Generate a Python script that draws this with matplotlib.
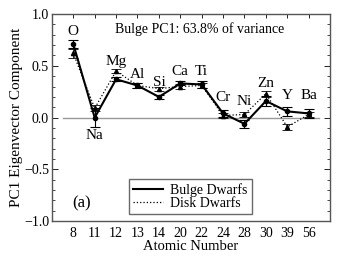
import matplotlib
matplotlib.use("Agg")
import matplotlib.pyplot as plt
from matplotlib.ticker import MultipleLocator
from matplotlib.lines import Line2D
import numpy as np

plt.rcParams['font.family'] = ['Liberation Serif', 'DejaVu Serif']

elements = ["O", "Na", "Mg", "Al", "Si", "Ca", "Ti", "Cr", "Ni", "Zn", "Y", "Ba"]
atomic_numbers = ["8", "11", "12", "13", "14", "20", "22", "24", "28", "30", "39", "56"]
bulge = [0.71, 0.00, 0.37, 0.31, 0.20, 0.33, 0.32, 0.04, -0.06, 0.16, 0.06, 0.04]
bulge_err = [0.04, 0.09, 0.02, 0.02, 0.02, 0.02, 0.03, 0.03, 0.04, 0.05, 0.04, 0.04]
disk = [0.62, 0.09, 0.45, 0.31, 0.28, 0.30, 0.31, 0.02, 0.03, 0.23, -0.09, 0.03]
disk_err = [0.04, 0.03, 0.02, 0.02, 0.02, 0.02, 0.02, 0.02, 0.02, 0.03, 0.03, 0.02]
label_y = [0.77, -0.24, 0.48, 0.35, 0.28, 0.38, 0.38, 0.13, 0.09, 0.27, 0.15, 0.15]

x = np.arange(1, len(elements) + 1)

fig = plt.figure(figsize=(3.46, 2.61), dpi=100)
ax = fig.add_axes([0.150, 0.153, 0.804, 0.793])

ax.plot([0.5, 12.5], [0, 0], color='#999999', lw=1.0, zorder=1)

ax.errorbar(x, bulge, yerr=bulge_err, color='black', lw=1.5, marker='o', ms=3,
            elinewidth=0.8, capsize=3.5, capthick=0.8, label='Bulge Dwarfs', zorder=3)
ax.errorbar(x, disk, yerr=disk_err, color='black', lw=0.9, ls=':', marker='^', ms=3,
            elinewidth=0.6, capsize=3.5, capthick=0.6, label='Disk Dwarfs', zorder=2)

for xi, el, ly in zip(x, elements, label_y):
    ax.text(xi, ly, el, ha='center', va='bottom', fontsize=11)

ax.text(6.9, 0.855, "Bulge PC1: 63.8% of variance", ha='center', va='center', fontsize=10)
ax.text(1.4, -0.83, "(a)", ha='center', va='center', fontsize=12)

ax.set_xlim(0, 13)
ax.set_ylim(-1.0, 1.0)
ax.set_xticks(x)
ax.set_xticklabels(atomic_numbers)
ax.yaxis.set_minor_locator(MultipleLocator(0.1))
ax.set_yticks([-1.0, -0.5, 0.0, 0.5, 1.0])
ax.set_yticklabels(["\u22121.0", "\u22120.5", "0.0", "0.5", "1.0"])
ax.tick_params(axis='x', which='both', direction='in', top=True, bottom=False,
               labelbottom=True, length=3, width=0.6, labelsize=10, pad=4)
ax.tick_params(axis='y', which='major', direction='in', left=True, right=True,
               length=4, width=0.6, labelsize=10, pad=2)
ax.tick_params(axis='y', which='minor', direction='in', left=True, right=True,
               length=2, width=0.5)
for s in ax.spines.values():
    s.set_color('#555555')
    s.set_linewidth(1.0)

ax.set_xlabel("Atomic Number", fontsize=10.5, labelpad=0.5)
ax.set_ylabel("PC1 Eigenvector Component", fontsize=11, labelpad=1)

handles = [Line2D([], [], color='black', lw=1.5), Line2D([], [], color='black', lw=0.9, ls=':')]
leg = ax.legend(handles, ['Bulge Dwarfs', 'Disk Dwarfs'], loc='lower center',
                bbox_to_anchor=(0.497, 0.035), fontsize=10, frameon=True, fancybox=False,
                handlelength=2.2, handletextpad=0.5, borderpad=0.3, labelspacing=0.0,
                borderaxespad=0)
leg.get_frame().set_edgecolor('#444444')
leg.get_frame().set_linewidth(1.0)

fig.savefig("out.png", dpi=100)
